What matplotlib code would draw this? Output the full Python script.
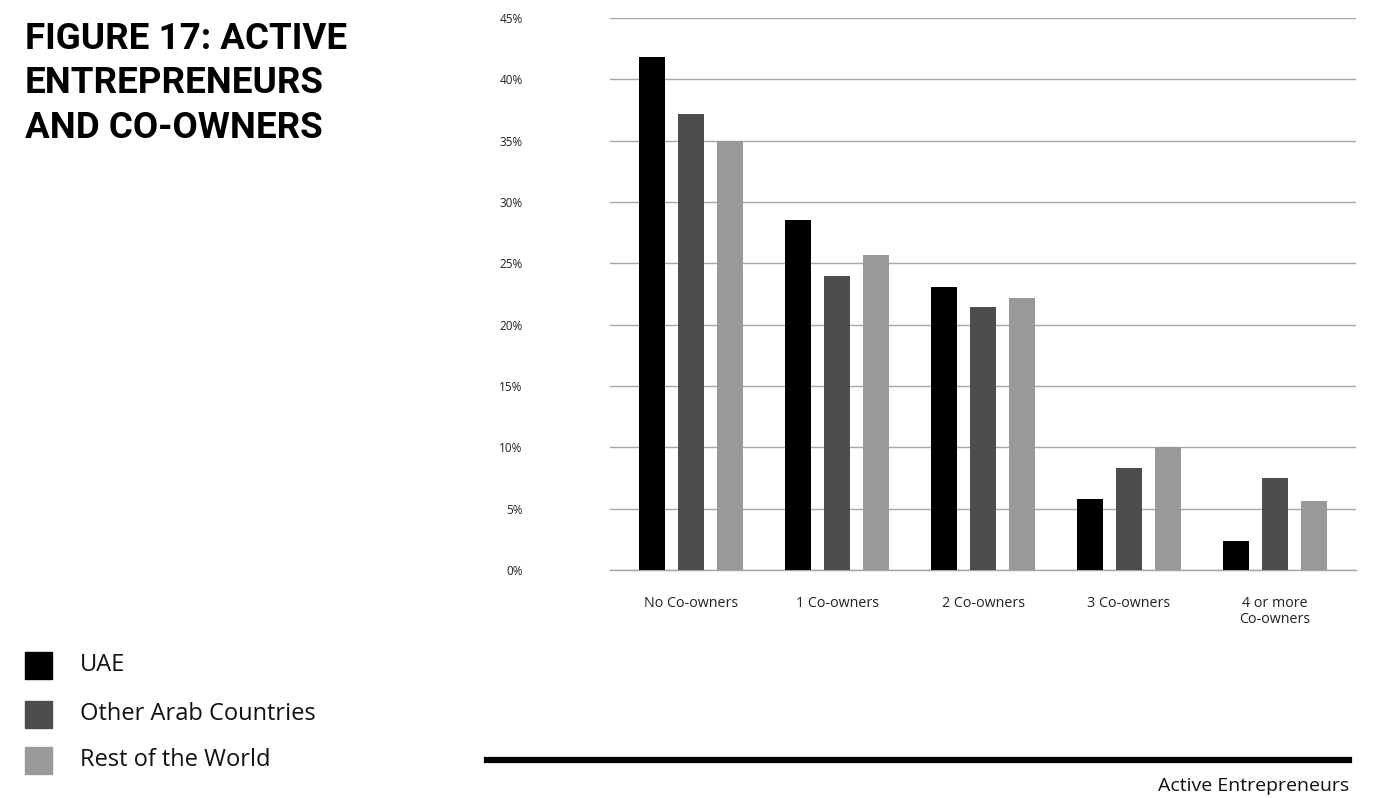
import matplotlib
matplotlib.use("Agg")
import matplotlib.pyplot as plt
import numpy as np

plt.rcParams['font.family'] = ['Open Sans', 'DejaVu Sans']

categories = ["No Co-owners", "1 Co-owners", "2 Co-owners", "3 Co-owners", "4 or more\nCo-owners"]
series_names = ["UAE", "Other Arab Countries", "Rest of the World"]
uae = [41.8, 28.5, 23.1, 5.8, 2.4]
other_arab = [37.2, 24.0, 21.4, 8.3, 7.5]
rest_world = [35.0, 25.7, 22.2, 10.0, 5.6]
yticks = [0, 5, 10, 15, 20, 25, 30, 35, 40, 45]
colors = ["#000000", "#4d4d4d", "#999999"]

W, H = 1373, 798
fig = plt.figure(figsize=(W / 100, H / 100), dpi=100)
ax = fig.add_axes([610 / W, 1 - 570 / H, (1356 - 610) / W, (570 - 18) / H])

x = np.arange(len(categories))
bw = 0.178
step = 0.264
for i, (vals, c) in enumerate(zip([uae, other_arab, rest_world], colors)):
    ax.bar(x + (i - 1) * step, vals, width=bw, color=c, zorder=3)

ax.set_xlim(-0.555, 4.555)
ax.set_ylim(0, 45)
ax.set_yticks(yticks)
ax.set_yticklabels([f"{v}%" for v in yticks], fontsize=8.5, color="#222222")
ax.yaxis.grid(True, color="#a6a6a6", linewidth=1.0, zorder=0)
ax.set_axisbelow(True)
ax.tick_params(axis='y', length=0, pad=63)
ax.set_xticks(x)
ax.set_xticklabels(categories, fontsize=10.3, color="#222222", linespacing=1.05, va='top')
ax.tick_params(axis='x', length=0, pad=19)
for s in ["top", "right", "left"]:
    ax.spines[s].set_visible(False)
ax.spines["bottom"].set_color("#a6a6a6")
ax.spines["bottom"].set_linewidth(1.0)

# Title
fig.text(25 / W, 1 - 21 / H, "FIGURE 17: ACTIVE\nENTREPRENEURS\nAND CO-OWNERS",
         fontsize=26.5, fontweight='bold', family=['Roboto', 'DejaVu Sans'],
         ha='left', va='top', linespacing=1.3, color="#000000")

# Legend
ys = [665, 714, 760]
for name, c, yy in zip(series_names, colors, ys):
    fig.patches.append(plt.Rectangle((25 / W, 1 - (yy + 13.5) / H), 27 / W, 27 / H,
                                     transform=fig.transFigure, color=c, figure=fig))
    fig.text(80 / W, 1 - yy / H, name, fontsize=17, ha='left', va='center', color="#111111")

# Bottom rule and label
fig.add_artist(plt.Line2D([487 / W, 1349 / W], [1 - 760 / H, 1 - 760 / H],
                          transform=fig.transFigure, color="#000000", linewidth=4.5))
fig.text(1349 / W, 1 - 786 / H, "Active Entrepreneurs", fontsize=14, ha='right', va='center',
         color="#111111")

fig.savefig("out.png", dpi=100)
